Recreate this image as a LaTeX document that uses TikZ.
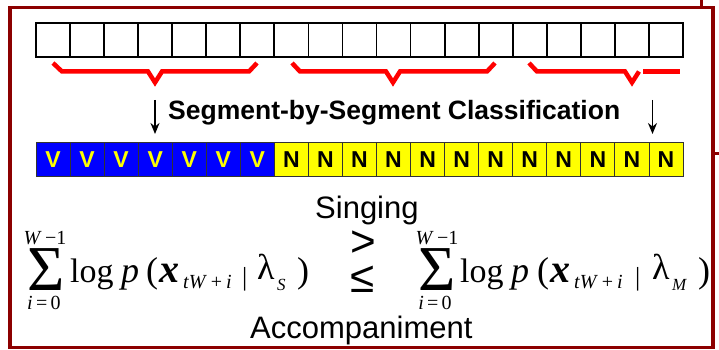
\documentclass[tikz,border=0pt]{standalone}
\usepackage{fontspec}
\usetikzlibrary{arrows.meta}
\newfontfamily\arial{Liberation Sans}
\newfontfamily\tms{Liberation Serif}
\definecolor{framered}{RGB}{140,0,0}
\definecolor{bracered}{RGB}{255,0,0}
\definecolor{vblue}{RGB}{0,0,255}
\definecolor{nyellow}{RGB}{255,255,0}
\tikzset{
  frame/.style={draw=framered, line width=3.6pt},
  cell/.style={draw=black, line width=1.8pt, minimum width=34.05pt, minimum height=34pt, inner sep=0pt},
  lab/.style={inner sep=0pt, font=\arial\bfseries\fontsize{23}{23}\selectfont, text height=16.5pt, text depth=0pt},
  vcell/.style={lab, draw=black!80, line width=0.8pt, fill=vblue, text=nyellow, minimum width=34.05pt, minimum height=34pt},
  ncell/.style={lab, draw=black!80, line width=0.8pt, fill=nyellow, text=black, minimum width=34.05pt, minimum height=34pt},
  brace/.style={draw=bracered, line width=4.5pt},
  down/.style={draw=black, line width=1.8pt, -{Stealth[length=11pt,width=9pt]}},
  mtext/.style={inner sep=0pt, anchor=base west},
  sig/.style={mtext, text height=42pt, text depth=0pt, font=\tms\fontsize{64}{64}\selectfont},
  lim/.style={inner sep=0pt, anchor=base, text height=13pt, text depth=0pt, font=\tms\fontsize{20}{20}\selectfont},
  big/.style={mtext, font=\tms\fontsize{36}{36}\selectfont},
  small/.style={mtext, font=\tms\fontsize{20}{20}\selectfont},
}
\begin{document}
\begin{tikzpicture}[x=1pt, y=-1pt]
\useasboundingbox (0,0) rectangle (719,350);

% outer frame and the edges of the panel behind it
\draw[frame] (10,7.5) rectangle (713,347.5);
\draw[framered, line width=3pt] (701.5,0) -- (701.5,7.5);
\draw[framered, line width=3pt] (713,153.5) -- (719,153.5);

% frame sequence
\foreach \i in {0,...,18}
  \node[cell] (t\i) at ({36+(\i+0.5)*34.05}, 40) {};

% segment braces
\draw[brace, line join=miter] (53,63) -- (62,71.5) -- (148,71.5) -- (155,82.5) -- (162,71.5) -- (249,71.5) -- (257,63);
\draw[brace, line join=miter] (292,63) -- (300,71.5) -- (386,71.5) -- (393,82.5) -- (400,71.5) -- (487,71.5) -- (495,63);
\draw[brace, line join=miter] (529,63) -- (537,71.5) -- (625,71.5) -- (632,82.5) -- (639,71.5);
\draw[brace] (643,71.5) -- (680,71.5);

% classified sequence
\foreach \i in {0,...,6}
  \node[vcell] (c\i) at ({36+(\i+0.5)*34.05}, 159) {V};
\foreach \i in {7,...,18}
  \node[ncell] (c\i) at ({36+(\i+0.5)*34.05}, 159) {N};

% classification arrows
\coordinate (a1s) at (155,100);
\coordinate (a1e) at (155,134);
\coordinate (a2s) at (652.5,100);
\coordinate (a2e) at (652.5,134);
\draw[down] (a1s) -- (a1e);
\draw[down] (a2s) -- (a2e);

\node[mtext] (title) at (168,120) {\arial\bfseries\fontsize{26.5}{26.5}\selectfont Segment-by-Segment Classification};

% decision labels
\node[mtext] (sing) at (315,218) {\arial\fontsize{31}{31}\selectfont Singing};
\node[mtext] (acc) at (250,338) {\arial\fontsize{31}{31}\selectfont Accompaniment};

% left sum
\node[sig] (sumL) at (27,290) {Σ};
\node[lim] (upL) at (45,244) {\textit{W}\,−1};
\node[lim] (loL) at (44,309) {\textit{i}\,=\,0};
\begin{scope}[shift={(70,0)}]
  \node[mtext, font=\tms\fontsize{34}{34}\selectfont] (logL) at (0,282) {log};
  \node[big] (pL) at (51,282) {\textit{p}};
  \node[big] (opL) at (76,282) {(};
  \node[mtext, font=\tms\fontsize{40}{40}\selectfont] (xL) at (89,282) {\textbf{\textit{x}}};
  \node[small] (subL) at (113,288) {\textit{tW}\hspace{4pt}+\hspace{4pt}\textit{i}};
  \node[mtext, font=\tms\fontsize{26}{26}\selectfont] (barL) at (172,285) {|};
  \node[big] (lamL) at (187,279) {λ};
  \node[mtext, font=\tms\fontsize{17}{17}\selectfont] (sL) at (207,290) {\textit{S}};
  \node[big] (cpL) at (227,282) {)};
\end{scope}

% comparison signs
\node[inner sep=0pt, anchor=base] (gt) at (363,256) {\arial\fontsize{44}{44}\selectfont >};
\node[inner sep=0pt, anchor=base] (le) at (363,292) {\arial\fontsize{44}{44}\selectfont ≤};

% right sum
\node[sig] (sumR) at (418,290) {Σ};
\node[lim] (upR) at (437,244) {\textit{W}\,−1};
\node[lim] (loR) at (435,309) {\textit{i}\,=\,0};
\begin{scope}[shift={(460,0)}]
  \node[mtext, font=\tms\fontsize{34}{34}\selectfont] (logR) at (0,282) {log};
  \node[big] (pR) at (51,282) {\textit{p}};
  \node[big] (opR) at (77,282) {(};
  \node[mtext, font=\tms\fontsize{40}{40}\selectfont] (xR) at (90,282) {\textbf{\textit{x}}};
  \node[small] (subR) at (114,288) {\textit{tW}\hspace{4pt}+\hspace{4pt}\textit{i}};
  \node[mtext, font=\tms\fontsize{26}{26}\selectfont] (barR) at (175,285) {|};
  \node[big] (lamR) at (192,279) {λ};
  \node[mtext, font=\tms\fontsize{17}{17}\selectfont] (mR) at (212,290) {\textit{M}};
  \node[big] (cpR) at (238,282) {)};
\end{scope}
\end{tikzpicture}
\end{document}
